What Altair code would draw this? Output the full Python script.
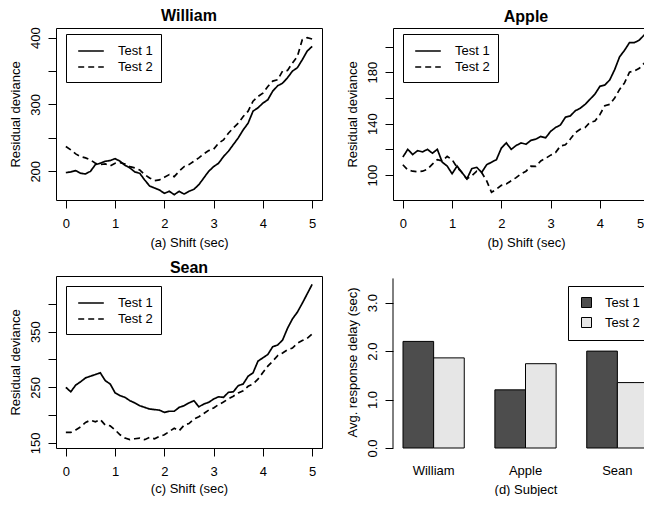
import altair as alt
import pandas as pd

FONT = "Liberation Sans"

# ---------------- data ----------------
shift = [0.0, 0.1, 0.2, 0.3, 0.4, 0.5, 0.6, 0.7, 0.8, 0.9,
         1.0, 1.1, 1.2, 1.3, 1.4, 1.5, 1.6, 1.7, 1.8, 1.9,
         2.0, 2.1, 2.2, 2.3, 2.4, 2.5, 2.6, 2.7, 2.8, 2.9,
         3.0, 3.1, 3.2, 3.3, 3.4, 3.5, 3.6, 3.7, 3.8, 3.9,
         4.0, 4.1, 4.2, 4.3, 4.4, 4.5, 4.6, 4.7, 4.8, 4.9, 5.0]

william_t1 = [198, 199, 201, 197, 196, 200, 210, 212, 215, 216,
              219, 215, 209, 205, 199, 197, 187, 178, 175, 172,
              167, 170, 165, 170, 166, 170, 173, 180, 190, 200,
              207, 212, 222, 230, 240, 250, 262, 272, 290, 295,
              302, 307, 320, 328, 332, 340, 350, 355, 367, 380, 387]
william_t2 = [237, 232, 226, 222, 220, 217, 212, 210, 211, 208,
              212, 213, 211, 207, 205, 202, 195, 190, 186, 187,
              191, 195, 192, 200, 207, 210, 215, 220, 226, 231,
              233, 242, 247, 257, 265, 272, 282, 290, 305, 312,
              317, 327, 335, 337, 350, 351, 362, 372, 397, 400, 398]

apple_t1 = [114, 120, 116, 119, 118, 120, 117, 120, 110, 107,
            101, 107, 102, 97, 105, 106, 102, 108, 110, 112,
            121, 125, 120, 123, 125, 124, 127, 128, 130, 129,
            134, 137, 139, 145, 146, 150, 152, 155, 159, 163,
            169, 170, 174, 182, 192, 197, 203, 203, 205, 209, 206]
apple_t2 = [108, 104, 103, 102.6, 103, 104.6, 108.5, 112, 111, 114.5,
            112, 106, 102, 97, 99.5, 103, 102, 95.6, 86.6, 89,
            92, 93, 95.6, 98, 101, 103, 107, 106.7, 111, 113,
            115.5, 117.5, 122.7, 123.5, 128, 133, 135.6, 137, 141, 142,
            147, 154, 155, 160, 166.6, 171.7, 180, 181, 183, 187, 192]

sean_t1 = [250, 242, 254, 260, 267, 270, 273, 276, 262, 256,
           240, 235, 232, 226, 222, 217, 214, 211, 210, 209,
           205, 207, 207, 214, 217, 222, 226, 215, 220, 223,
           229, 233, 232, 241, 242, 253, 256, 270, 276, 297,
           303, 309, 323, 326, 335, 356, 373, 385, 401, 418, 435]
sean_t2 = [169, 169, 173.5, 179, 187, 191, 188, 192, 182, 181,
           173.5, 164.7, 158.8, 156, 157.6, 158.8, 156, 160, 157.6, 161.8,
           164.7, 170.6, 176.5, 172, 182, 185, 193, 197, 203, 209,
           213, 219, 223.5, 229.4, 234, 240, 244, 251.8, 256, 264.7,
           276.5, 288, 297, 307, 311.8, 317.6, 320.6, 329.4, 334, 338, 346]

tests = ["Test 1", "Test 2"]
subjects = ["William", "Apple", "Sean"]
delay_t1 = [2.2, 1.2, 2.0]
delay_t2 = [1.86, 1.74, 1.35]

x_ticks = [0, 1, 2, 3, 4, 5]
william_yticks = [200, 250, 300, 350, 400]
william_ylabels = [200, 300, 400]
apple_yticks = [100, 120, 140, 160, 180, 200]
apple_ylabels = [100, 140, 180]
sean_yticks = [150, 200, 250, 300, 350, 400]
sean_ylabels = [150, 250, 350]
bar_yticks = [0.0, 0.5, 1.0, 1.5, 2.0, 2.5, 3.0, 3.5]
bar_ylabels = [0.0, 1.0, 2.0, 3.0]

PW, PH = 266, 172


def label_expr(vals):
    return "indexof([" + ",".join(str(v) for v in vals) + "], datum.value) >= 0 ? datum.label : ''"


def line_panel(t1, t2, ydom, yticks, ylabels, title, xtitle,
               title_offset, x_title_pad, legend_y, last_label_shift=0):
    df = pd.DataFrame({
        "shift": shift + shift,
        "value": t1 + t2,
        "test": [tests[0]] * len(t1) + [tests[1]] * len(t2),
    })
    x_axis_kw = dict(values=x_ticks, format="d", title=xtitle,
                     labelPadding=9, titlePadding=x_title_pad)
    if last_label_shift:
        x_axis_kw["labelOffset"] = {
            "condition": {"test": "datum.value == %d" % x_ticks[-1],
                          "value": last_label_shift},
            "value": 0}
    return alt.Chart(df, title=alt.TitleParams(
        title, font=FONT, fontSize=16, fontWeight="bold", color="black",
        anchor="middle", offset=title_offset)).mark_line(
        color="black", strokeWidth=1.7
    ).encode(
        x=alt.X("shift:Q",
                scale=alt.Scale(domain=[-0.2, 5.2], nice=False, zero=False),
                axis=alt.Axis(**x_axis_kw)),
        y=alt.Y("value:Q",
                scale=alt.Scale(domain=ydom, nice=False, zero=False),
                axis=alt.Axis(values=yticks, labelExpr=label_expr(ylabels),
                              title="Residual deviance")),
        strokeDash=alt.StrokeDash(
            "test:N",
            scale=alt.Scale(domain=tests, range=[[1, 0], [6, 4]]),
            legend=alt.Legend(
                title=None, orient="none", legendX=10, legendY=legend_y,
                symbolType="M-1.6,0H1.6", symbolSize=256,
                symbolStrokeWidth=1.7, symbolStrokeColor="black",
                symbolOffset=8, labelOffset=18, padding=8, rowPadding=0,
                strokeColor="black", fillColor="white",
                labelFont=FONT, labelFontSize=13, labelColor="black")),
    ).properties(width=PW, height=PH)


p1 = line_panel(william_t1, william_t2, [157, 414.5], william_yticks,
                william_ylabels, "William", "(a) Shift (sec)", 3, 6, 6)
p2 = line_panel(apple_t1, apple_t2, [80.6, 214.4], apple_yticks,
                apple_ylabels, "Apple", "(b) Shift (sec)", 3, 6, 6,
                last_label_shift=-9)
p3 = line_panel(sean_t1, sean_t2, [141, 450], sean_yticks,
                sean_ylabels, "Sean", "(c) Shift (sec)", 0, 4, 10)

bar_df = pd.DataFrame({
    "subject": subjects + subjects,
    "test": [tests[0]] * 3 + [tests[1]] * 3,
    "value": delay_t1 + delay_t2,
})
bars = alt.Chart(bar_df).mark_bar(stroke="black", strokeWidth=1).encode(
    x=alt.X("subject:N", sort=subjects,
            scale=alt.Scale(paddingInner=1 / 3, paddingOuter=0.109),
            axis=alt.Axis(title="(d) Subject", ticks=False, tickSize=0,
                          domain=False, labelAngle=0, labelPadding=16,
                          titlePadding=6)),
    xOffset=alt.XOffset("test:N", sort=tests,
                        scale=alt.Scale(paddingInner=0, paddingOuter=0)),
    y=alt.Y("value:Q", scale=alt.Scale(domain=[0, 3.55], nice=False),
            axis=alt.Axis(values=bar_yticks, format=".1f",
                          labelExpr=label_expr(bar_ylabels),
                          title="Avg. response delay (sec)")),
    fill=alt.Fill("test:N",
                  scale=alt.Scale(domain=tests, range=["#4d4d4d", "#e6e6e6"]),
                  legend=alt.Legend(
                      title=None, orient="none", legendX=175, legendY=10,
                      symbolType="square", symbolSize=100,
                      symbolStrokeColor="black", symbolStrokeWidth=1,
                      symbolOffset=2, labelOffset=12, padding=10, rowPadding=5,
                      strokeColor="black", fillColor="white",
                      labelFont=FONT, labelFontSize=13, labelColor="black")),
)
axis_df = pd.DataFrame({"lo": [bar_yticks[0]], "hi": [bar_yticks[-1]]})
axis_line = alt.Chart(axis_df).mark_rule(color="black", strokeWidth=1).encode(
    y=alt.Y("lo:Q"), y2="hi:Q", x=alt.value(0))
p4 = alt.layer(bars, axis_line).properties(
    width=265, height=PH, view=alt.ViewBackground(strokeOpacity=0))

chart = alt.concat(
    p1, p2, p3, p4, columns=2, spacing={"row": 76, "column": 71}, bounds="flush"
).resolve_scale(
    strokeDash="independent", fill="independent"
).resolve_legend(
    strokeDash="independent", fill="independent"
).properties(
    autosize=alt.AutoSizeParams(type="none"),
    padding={"left": 48, "top": 20, "right": 588, "bottom": 468}
).configure_view(
    stroke="black", strokeWidth=1
).configure_axis(
    labelFont=FONT, labelFontSize=13, labelColor="black",
    titleFont=FONT, titleFontSize=13, titleFontWeight="normal",
    titleColor="black", tickColor="black", tickSize=8, tickWidth=1,
    domain=False, grid=False, labelFlush=False, labelOverlap=False
).configure_axisY(
    labelAngle=270, labelAlign="center", labelBaseline="alphabetic",
    labelPadding=9, titlePadding=7
).configure_axisX(
    labelAngle=0
)

chart.save("out.html", embed_options={"renderer": "svg", "actions": False})
